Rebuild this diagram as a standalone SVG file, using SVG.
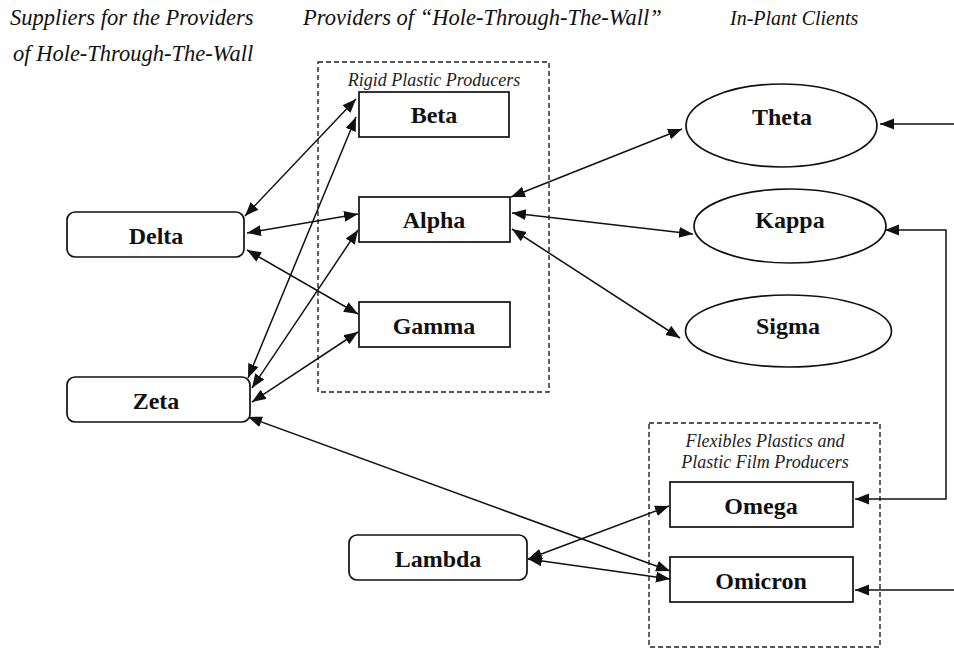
<svg xmlns="http://www.w3.org/2000/svg" width="954" height="650" viewBox="0 0 954 650">
<style>
.hdr{font-family:"Liberation Serif","Times New Roman",serif;font-style:italic;font-size:22.5px;fill:#111}
.sub{font-family:"Liberation Serif","Times New Roman",serif;font-style:italic;font-size:18px;fill:#222;text-anchor:middle}
.lbl{font-family:"Liberation Serif","Times New Roman",serif;font-weight:bold;font-size:24px;fill:#111;text-anchor:middle}
.box{fill:#fff;stroke:#111;stroke-width:1.7}
.grp{fill:none;stroke:#222;stroke-width:1.4;stroke-dasharray:5,3}
.ln{fill:none;stroke:#111;stroke-width:1.5;marker-start:url(#ah);marker-end:url(#ah)}
.one{fill:none;stroke:#111;stroke-width:1.5;marker-end:url(#ah)}
</style>
<defs>
<marker id="ah" markerUnits="userSpaceOnUse" markerWidth="15" markerHeight="12" refX="14" refY="5.5" orient="auto-start-reverse">
<path d="M0,0 L14,5.5 L0,11 z" fill="#111"/>
</marker>
</defs>
<rect width="954" height="650" fill="#fff"/>
<g id="headers">
<text class="hdr" x="10" y="25">Suppliers for the Providers</text>
<text class="hdr" x="13" y="61">of Hole-Through-The-Wall</text>
<text class="hdr" x="303" y="25">Providers of “Hole-Through-The-Wall”</text>
<text class="hdr" x="730" y="25" style="font-size:20px">In-Plant Clients</text>
</g>
<g id="rigid-group">
<rect class="grp" x="318" y="62" width="231" height="330"/>
<text class="sub" x="434" y="86">Rigid Plastic Producers</text>
</g>
<g id="flex-group">
<rect class="grp" x="649" y="423" width="231" height="224"/>
<text class="sub" x="765" y="447">Flexibles Plastics and</text>
<text class="sub" x="765" y="468">Plastic Film Producers</text>
</g>
<g id="connectors">
<line class="ln" x1="245" y1="216" x2="356" y2="99"/>
<line class="ln" x1="248" y1="378" x2="356" y2="117"/>
<line class="ln" x1="247" y1="233" x2="358" y2="214"/>
<line class="ln" x1="252" y1="388" x2="358" y2="230"/>
<line class="ln" x1="247" y1="250" x2="358" y2="314"/>
<line class="ln" x1="252" y1="402" x2="358" y2="332"/>
<line class="ln" x1="248" y1="417" x2="670" y2="571"/>
<line class="ln" x1="528" y1="559" x2="669" y2="506"/>
<line class="ln" x1="528" y1="559" x2="670" y2="579"/>
<line class="ln" x1="511" y1="197" x2="682" y2="129"/>
<line class="ln" x1="512" y1="213" x2="693" y2="234"/>
<line class="ln" x1="512" y1="229" x2="680" y2="338"/>
<line class="one" x1="954" y1="124" x2="880" y2="124"/>
<path class="ln" d="M885,230 H946 V499 H855"/>
<line class="one" x1="954" y1="590" x2="855" y2="590"/>
</g>
<g id="Beta"><rect class="box" x="359" y="92" width="150" height="45"/><text class="lbl" x="434" y="123">Beta</text></g>
<g id="Alpha"><rect class="box" x="359" y="197" width="151" height="45"/><text class="lbl" x="434" y="228">Alpha</text></g>
<g id="Gamma"><rect class="box" x="359" y="302" width="151" height="45"/><text class="lbl" x="434" y="334">Gamma</text></g>
<g id="Delta"><rect class="box" x="67" y="212" width="177" height="45" rx="8"/><text class="lbl" x="156" y="244">Delta</text></g>
<g id="Zeta"><rect class="box" x="67" y="377" width="183" height="45" rx="8"/><text class="lbl" x="156" y="409">Zeta</text></g>
<g id="Lambda"><rect class="box" x="349" y="535" width="178" height="45" rx="8"/><text class="lbl" x="438" y="567">Lambda</text></g>
<g id="Omega"><rect class="box" x="670" y="482" width="183" height="45"/><text class="lbl" x="761" y="514">Omega</text></g>
<g id="Omicron"><rect class="box" x="670" y="557" width="183" height="45"/><text class="lbl" x="761" y="589">Omicron</text></g>
<g id="Theta"><ellipse class="box" cx="781.5" cy="125.5" rx="95.5" ry="41.5"/><text class="lbl" x="782" y="125">Theta</text></g>
<g id="Kappa"><ellipse class="box" cx="790" cy="226" rx="96" ry="37"/><text class="lbl" x="790" y="228">Kappa</text></g>
<g id="Sigma"><ellipse class="box" cx="788.5" cy="331" rx="103" ry="36"/><text class="lbl" x="788" y="334">Sigma</text></g>
</svg>
